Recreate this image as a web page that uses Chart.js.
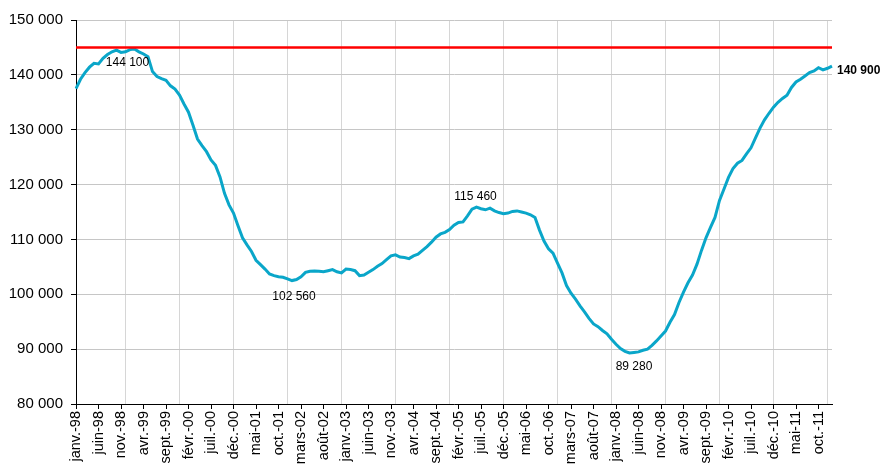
<!DOCTYPE html>
<html>
<head>
<meta charset="utf-8">
<script src="https://cdn.jsdelivr.net/npm/chart.js@4"></script>
<style>
  body { margin: 0; background: #fff; overflow: hidden; }
</style>
</head>
<body>
<canvas id="chart" width="880" height="468"></canvas>
<script>
const monthNames = ['janv.', 'févr.', 'mars', 'avr.', 'mai', 'juin', 'juil.', 'août', 'sept.', 'oct.', 'nov.', 'déc.'];
const firstYear = 1998;

// monthly values, janv.-98 to janv.-12
const values = [
    137500, 139200, 140400, 141400, 142100, 142000, 143000, 143700, 144200, 144500, 144100, 144200,
    144600, 144700, 144200, 143800, 143300, 140600, 139700, 139300, 139000, 138000, 137400, 136300,
    134700, 133200, 130800, 128300, 127100, 126000, 124500, 123500, 121400, 118400, 116300, 114800,
    112500, 110300, 109000, 107800, 106200, 105400, 104600, 103700, 103400, 103200, 103100, 102800,
    102500, 102700, 103200, 104000, 104200, 104250, 104200, 104100, 104300, 104500, 104100, 103900,
    104600, 104500, 104300, 103400, 103500, 104000, 104500, 105100, 105600, 106300, 107000, 107200,
    106800, 106700, 106500, 107000, 107300, 108000, 108700, 109500, 110400, 111000, 111300, 111800,
    112600, 113100, 113200, 114300, 115500, 115900, 115600, 115400, 115700, 115200, 114900, 114700,
    114800, 115100, 115200, 115000, 114800, 114500, 114000, 111700, 109700, 108300, 107500, 105700,
    103900, 101600, 100200, 99100, 97900, 96800, 95600, 94600, 94100, 93400, 92800, 91800,
    90900, 90100, 89600, 89300, 89400, 89500, 89800, 90000, 90700, 91500, 92400, 93300,
    94900, 96300, 98500, 100400, 102100, 103500, 105500, 108000, 110300, 112200, 114000, 117100,
    119200, 121300, 122900, 123900, 124400, 125600, 126700, 128500, 130300, 131800, 133000, 134100,
    135000, 135700, 136300, 137700, 138700, 139200, 139800, 140400, 140700, 141300, 140900, 141200,
    141600
];

const ceiling = 145000;

// annotated points: index into values, text
const notes = [
    { index: 11, text: '144 100' },
    { index: 48, text: '102 560' },
    { index: 89, text: '115 460' },
    { index: 124, text: '89 280' },
    { index: 168, text: '140 900' }
];

const labels = values.map((v, i) => {
    const m = i % 12;
    const y = (firstYear + Math.floor(i / 12)) % 100;
    return monthNames[m] + '-' + String(y).padStart(2, '0');
});

function fmt(n) {
    return String(n).replace(/\B(?=(\d{3})+(?!\d))/g, ' ');
}

const FONT = "'Liberation Sans', Arial, sans-serif";

const extras = {
    id: 'extras',
    afterDatasetsDraw(chart) {
        const ctx = chart.ctx;
        const x = chart.scales.x;
        const y = chart.scales.y;
        const area = chart.chartArea;

        // red ceiling line
        const yc = y.getPixelForValue(ceiling);
        ctx.save();
        ctx.strokeStyle = '#ff0000';
        ctx.lineWidth = 2.5;
        ctx.beginPath();
        ctx.moveTo(area.left, yc);
        ctx.lineTo(area.right, yc);
        ctx.stroke();

        // value labels
        ctx.fillStyle = '#000';
        ctx.textBaseline = 'middle';
        const offsets = [[2, 11], [2, 16], [-1, -10], [0, 14], [5, 5]];
        notes.forEach((n, k) => {
            const px = x.getPixelForValue(n.index);
            const py = y.getPixelForValue(values[n.index]);
            const last = n.index === values.length - 1;
            ctx.font = (last ? 'bold 12px ' : '12px ') + FONT;
            ctx.textAlign = last ? 'left' : 'center';
            ctx.fillText(n.text, px + offsets[k][0], py + offsets[k][1]);
        });
        ctx.restore();
    }
};

new Chart(document.getElementById('chart'), {
    type: 'line',
    data: {
        labels: labels,
        datasets: [{
            data: values,
            borderColor: '#0aa6c9',
            borderWidth: 3,
            pointRadius: 0,
            tension: 0,
            fill: false
        }]
    },
    options: {
        responsive: false,
        animation: false,
        layout: { padding: { left: 0, right: 48, top: 20, bottom: 0 } },
        plugins: {
            legend: { display: false },
            tooltip: { enabled: false }
        },
        scales: {
            x: {
                type: 'category',
                offset: false,
                border: { color: '#000', width: 1 },
                grid: {
                    color: c => (c.index % 12 === 11 ? '#d6d6d6' : 'rgba(0,0,0,0)'),
                    tickColor: c => (c.index % 5 === 0 ? '#000' : 'rgba(0,0,0,0)'),
                    tickLength: 5,
                    lineWidth: 1
                },
                ticks: {
                    autoSkip: false,
                    maxRotation: 90,
                    minRotation: 90,
                    padding: 2,
                    color: '#000',
                    font: { family: FONT, size: 14.5 },
                    callback: (val, i) => (i % 5 === 0 ? labels[i] : '')
                },
                afterFit: s => { s.height = 64; }
            },
            y: {
                min: 80000,
                max: 150000,
                border: { color: '#000', width: 1 },
                grid: {
                    color: '#c6c6c6',
                    tickColor: '#000',
                    tickLength: 5,
                    lineWidth: 1
                },
                ticks: {
                    stepSize: 10000,
                    padding: 8,
                    color: '#000',
                    font: { family: FONT, size: 15 },
                    callback: v => fmt(v)
                },
                afterFit: s => { s.width = 76; }
            }
        }
    },
    plugins: [extras]
});
</script>
</body>
</html>
